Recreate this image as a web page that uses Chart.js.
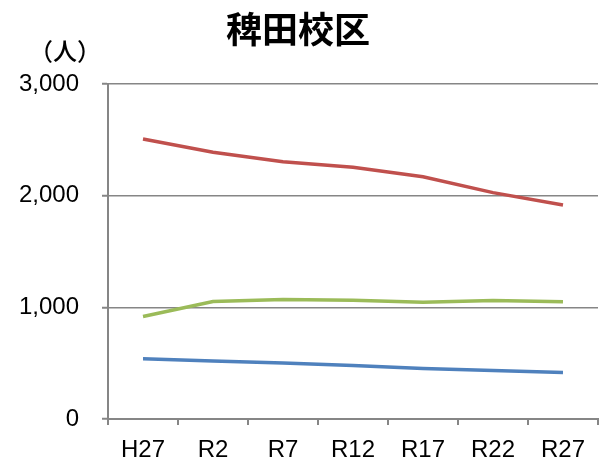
<!DOCTYPE html>
<html>
<head>
<meta charset="utf-8">
<script src="https://cdn.jsdelivr.net/npm/chart.js@4/dist/chart.umd.min.js"></script>
<style>
  html, body { margin: 0; padding: 0; background: #fff; }
  #wrap { width: 599px; height: 468px; }
</style>
</head>
<body>
<div id="wrap"><canvas id="chart" width="599" height="468"></canvas></div>
<script>
// Data
const years = ['H27', 'R2', 'R7', 'R12', 'R17', 'R22', 'R27'];
const working = [2507, 2388, 2304, 2254, 2170, 2027, 1917];   // red
const elderly = [918, 1052, 1070, 1064, 1046, 1061, 1049];    // green
const young = [539, 519, 501, 480, 453, 435, 417];            // blue
const yTicks = [0, 1000, 2000, 3000];

const chartTitle = '稗田校区';
const unitLabel = '（人）';

const axisGray = '#868686';
const labelFont = { family: 'Liberation Sans, Arial, sans-serif', size: 24 };

// draws title + unit label as canvas text
const textPlugin = {
    id: 'textPlugin',
    afterDraw(chart) {
        const c = chart.ctx;
        c.save();
        c.fillStyle = '#000';
        c.textAlign = 'center';
        c.textBaseline = 'middle';
        c.font = 'bold 36px "Noto Sans CJK JP", sans-serif';
        c.fillText(chartTitle, 298, 29);
        c.font = '500 24px "Noto Sans CJK JP", sans-serif';
        c.fillText(unitLabel, 65, 51);
        c.restore();
    }
};

const line = (label, data, color) => ({
    label, data,
    borderColor: color,
    backgroundColor: color,
    borderWidth: 3.5,
    pointRadius: 0,
    tension: 0,
    fill: false
});

const ctx = document.getElementById('chart').getContext('2d');
new Chart(ctx, {
    type: 'line',
    data: {
        labels: years,
        datasets: [
            line('生産年齢人口', working, '#C0504D'),
            line('老年人口', elderly, '#9BBB59'),
            line('年少人口', young, '#4F81BD')
        ]
    },
    options: {
        responsive: false,
        animation: false,
        layout: { padding: { top: 84, right: 1, left: 0, bottom: 0 } },
        plugins: { legend: { display: false }, title: { display: false }, tooltip: { enabled: false } },
        scales: {
            x: {
                offset: true,
                grid: { display: true, offset: true, drawOnChartArea: false, drawTicks: true, tickLength: 6, color: axisGray, lineWidth: 2 },
                border: { display: true, color: axisGray, width: 2 },
                ticks: { color: '#000', font: labelFont, padding: 11, maxRotation: 0, autoSkip: false },
                afterFit(scale) { scale.height = 49; }
            },
            y: {
                min: 0,
                max: 3000,
                afterBuildTicks(scale) { scale.ticks = yTicks.map(v => ({ value: v })); },
                grid: {
                    color: axisGray, lineWidth: 1.5, borderDash: [2, 2],
                    drawTicks: true, tickLength: 6, tickColor: axisGray, tickWidth: 2, tickBorderDash: []
                },
                border: { display: true, color: axisGray, width: 2 },
                ticks: {
                    color: '#000', font: labelFont, padding: 23,
                    callback: v => v.toLocaleString('en-US')
                },
                afterFit(scale) { scale.width = 108; }
            }
        }
    },
    plugins: [textPlugin]
});
</script>
</body>
</html>
